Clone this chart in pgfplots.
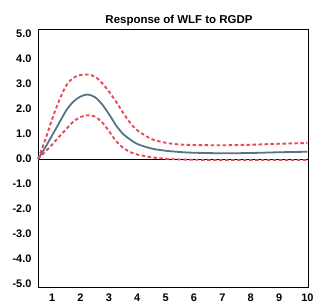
\documentclass[border=0pt]{standalone}
\usepackage{fontspec}
\setmainfont{Liberation Sans}
\usepackage{pgfplots}
\pgfplotsset{compat=1.18}
\definecolor{ctr}{HTML}{557486}
\definecolor{band}{HTML}{E64B5A}
\begin{document}
\begin{tikzpicture}
\begin{axis}[
  scale only axis, width=270bp, height=258bp,
  xmin=0.5, xmax=10.02, ymin=-5.12, ymax=5.2,
  xtick={1,...,10}, ytick={-5,-4,...,5},
  major tick length=0pt,
  axis line style={black, line width=0.9pt},
  /pgf/number format/assume math mode=true,
  yticklabel style={/pgf/number format/fixed, /pgf/number format/fixed zerofill, /pgf/number format/precision=1, xshift=-3bp},
  ticklabel style={font=\bfseries\fontsize{11}{12}\selectfont},
  xticklabel style={yshift=-3bp},
  title={\bfseries Response of WLF to RGDP},
  title style={font=\bfseries\fontsize{11.5}{13}\selectfont, yshift=-6bp, xshift=6bp},
  clip=false,
]
\addplot[black, line width=0.7pt] coordinates {(0.5,0) (10.02,0)};
\addplot[band, line width=1.9pt, dash pattern=on 3.5pt off 2.5pt, smooth] coordinates {
(0.5,0) (0.75,0.75) (1.0,1.6) (1.25,2.35) (1.5,2.95) (1.75,3.25) (2.0,3.36) (2.25,3.38) (2.5,3.3) (2.75,3.05) (3.0,2.7) (3.25,2.3) (3.5,1.85) (3.75,1.45) (4.0,1.15) (4.5,0.8) (5.0,0.65) (5.5,0.58) (6,0.56) (7,0.55) (8,0.57) (9,0.61) (10,0.64)};
\addplot[ctr, line width=1.8pt, smooth] coordinates {
(0.5,0) (0.75,0.45) (1.0,0.95) (1.25,1.45) (1.5,1.95) (1.75,2.3) (2.0,2.5) (2.25,2.58) (2.5,2.48) (2.75,2.2) (3.0,1.8) (3.25,1.35) (3.5,1.0) (3.75,0.78) (4.0,0.6) (4.5,0.42) (5.0,0.33) (5.5,0.28) (6,0.25) (7,0.23) (8,0.24) (9,0.27) (10,0.29)};
\addplot[band, line width=1.9pt, dash pattern=on 3.5pt off 2.5pt, smooth] coordinates {
(0.5,0) (0.75,0.28) (1.0,0.58) (1.25,0.9) (1.5,1.2) (1.75,1.5) (2.0,1.68) (2.25,1.75) (2.5,1.7) (2.75,1.48) (3.0,1.12) (3.25,0.72) (3.5,0.45) (3.75,0.28) (4.0,0.18) (4.5,0.07) (5.0,0.01) (5.5,-0.02) (6,-0.03) (7,-0.04) (8,-0.04) (9,-0.04) (10,-0.04)};
\end{axis}
\pgfresetboundingbox
\path (-38bp,-19bp) rectangle (278bp,287bp);
\end{tikzpicture}
\end{document}
